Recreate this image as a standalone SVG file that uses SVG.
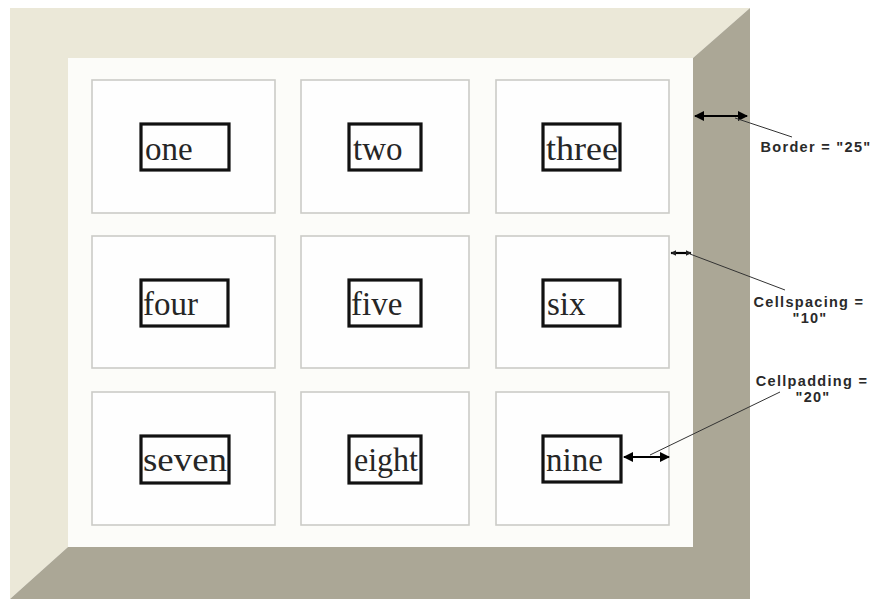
<svg xmlns="http://www.w3.org/2000/svg" width="876" height="599" viewBox="0 0 876 599">
  <defs>
    <style>
      .frame-light { fill: #ebe8d8; }
      .frame-dark { fill: #aba796; }
      .inner { fill: #fcfcf9; }
      .cell rect.c { fill: #fefefe; stroke: #cbcbc7; stroke-width: 1.6; }
      .cell rect.b { fill: none; stroke: #111; stroke-width: 3.2; }
      .cell text { font-family: "Liberation Serif", "Times New Roman", serif; font-size: 33px; fill: #262626; }
      .dim { stroke: #000; stroke-width: 2.2; fill: none; }
      .lead { stroke: #333; stroke-width: 1; fill: none; }
      .lbl { font-family: "Liberation Sans", Arial, sans-serif; font-weight: bold; font-size: 14.5px; fill: #2a2a2a; letter-spacing: 1.3px; text-anchor: middle; }
    </style>
    <marker id="head" viewBox="0 0 10 10" refX="9" refY="5" markerWidth="4.6" markerHeight="4.6" orient="auto-start-reverse" markerUnits="strokeWidth">
      <path d="M0,0 L10,5 L0,10 Z" fill="#000"/>
    </marker>
    <marker id="tiny" viewBox="0 0 10 10" refX="9" refY="5" markerWidth="2.6" markerHeight="2.6" orient="auto-start-reverse" markerUnits="strokeWidth">
      <path d="M0,0 L10,5 L0,10 Z" fill="#222"/>
    </marker>
  </defs>

  <rect x="0" y="0" width="876" height="599" fill="#ffffff"/>

  <!-- bevelled table border -->
  <g id="table-frame">
    <polygon class="frame-light" points="10,8 750,8 693,58 68,58 68,547 10,599"/>
    <polygon class="frame-dark" points="750,8 750,599 10,599 68,547 693,547 693,58"/>
    <rect class="inner" x="68" y="58" width="625" height="489"/>
  </g>

  <!-- cells -->
  <g id="cell-one" class="cell">
    <rect class="c" x="92" y="80" width="183" height="133"/>
    <rect class="b" x="141" y="124" width="88" height="46"/>
    <text x="145" y="160">one</text>
  </g>
  <g id="cell-two" class="cell">
    <rect class="c" x="301" y="80" width="168" height="133"/>
    <rect class="b" x="349" y="124" width="72" height="46"/>
    <text x="353" y="160">two</text>
  </g>
  <g id="cell-three" class="cell">
    <rect class="c" x="496" y="80" width="173" height="133"/>
    <rect class="b" x="543" y="124" width="77" height="46"/>
    <text x="546" y="160" textLength="72" lengthAdjust="spacingAndGlyphs">three</text>
  </g>
  <g id="cell-four" class="cell">
    <rect class="c" x="92" y="236" width="183" height="132"/>
    <rect class="b" x="141" y="280" width="87" height="46"/>
    <text x="143" y="315">four</text>
  </g>
  <g id="cell-five" class="cell">
    <rect class="c" x="301" y="236" width="168" height="132"/>
    <rect class="b" x="349" y="280" width="72" height="46"/>
    <text x="351" y="315">five</text>
  </g>
  <g id="cell-six" class="cell">
    <rect class="c" x="496" y="236" width="173" height="132"/>
    <rect class="b" x="543" y="280" width="77" height="46"/>
    <text x="547" y="315">six</text>
  </g>
  <g id="cell-seven" class="cell">
    <rect class="c" x="92" y="392" width="183" height="133"/>
    <rect class="b" x="141" y="436" width="88" height="47"/>
    <text x="143" y="471" textLength="84" lengthAdjust="spacingAndGlyphs">seven</text>
  </g>
  <g id="cell-eight" class="cell">
    <rect class="c" x="301" y="392" width="168" height="133"/>
    <rect class="b" x="349" y="436" width="72" height="47"/>
    <text x="354" y="471" textLength="64" lengthAdjust="spacingAndGlyphs">eight</text>
  </g>
  <g id="cell-nine" class="cell">
    <rect class="c" x="496" y="392" width="173" height="133"/>
    <rect class="b" x="543" y="436" width="78" height="46"/>
    <text x="546" y="471">nine</text>
  </g>

  <!-- dimension arrows and leader lines -->
  <g id="connectors">
    <line class="dim" x1="695" y1="116" x2="747" y2="116" marker-start="url(#head)" marker-end="url(#head)"/>
    <line class="lead" x1="735" y1="118" x2="792" y2="137"/>
    <line class="dim" x1="671" y1="253" x2="691" y2="253" stroke-width="2" marker-start="url(#tiny)" marker-end="url(#tiny)"/>
    <line class="lead" x1="690" y1="254" x2="785" y2="290"/>
    <line class="dim" x1="624" y1="457" x2="669" y2="457" marker-start="url(#head)" marker-end="url(#head)"/>
    <line class="lead" x1="650" y1="455" x2="780" y2="392"/>
  </g>

  <!-- annotation labels -->
  <g id="label-border">
    <text class="lbl" x="816" y="152">Border = "25"</text>
  </g>
  <g id="label-cellspacing">
    <text class="lbl" x="809" y="307">Cellspacing =</text>
    <text class="lbl" x="810" y="323">"10"</text>
  </g>
  <g id="label-cellpadding">
    <text class="lbl" x="812" y="386">Cellpadding =</text>
    <text class="lbl" x="813" y="402">"20"</text>
  </g>
</svg>
